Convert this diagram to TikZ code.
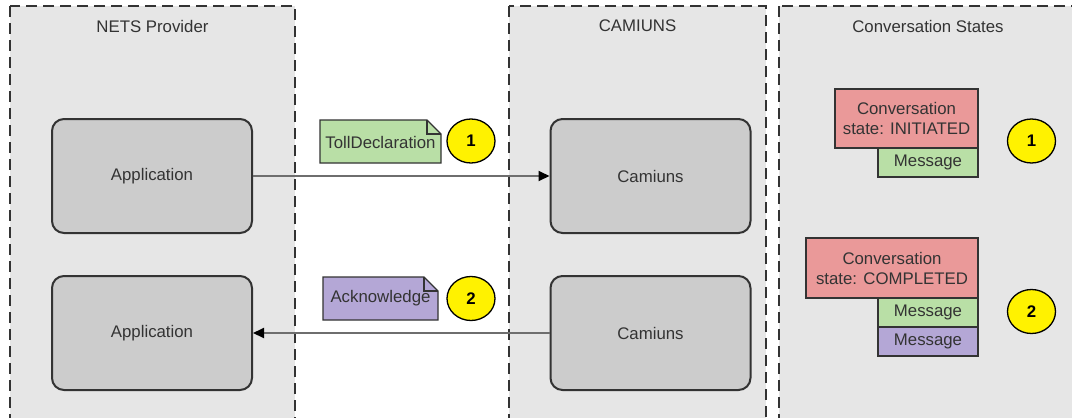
\documentclass[tikz,border=0pt]{standalone}
\usepackage{fontspec}
\setmainfont{Liberation Sans}
\usetikzlibrary{arrows.meta,shapes.geometric}
\definecolor{cont}{HTML}{E6E6E6}
\definecolor{boxfill}{HTML}{CCCCCC}
\definecolor{edge}{HTML}{333333}
\definecolor{txt}{HTML}{333333}
\definecolor{redf}{HTML}{EA9999}
\definecolor{greenf}{HTML}{B9DFA6}
\definecolor{purplef}{HTML}{B4A7D6}
\definecolor{linec}{HTML}{6E6E6E}
\tikzset{
  every node/.style={font=\fontsize{16.8}{20}\selectfont, text=txt},
  container/.style={fill=cont, draw=edge, line width=1.3pt, dash pattern=on 11pt off 6pt},
  appbox/.style={draw=edge, fill=boxfill, line width=2pt, rounded corners=12pt, minimum width=200pt, minimum height=114pt, inner sep=0pt},
  statebox/.style={draw=edge, fill=redf, line width=2pt, inner sep=0pt, align=center},
  msgbox/.style={draw=edge, line width=2pt, inner sep=0pt, minimum width=100pt, minimum height=29pt},
  numcirc/.style={ellipse, draw=black, fill=yellow, line width=1.3pt, minimum width=48pt, minimum height=44pt, inner sep=0pt, font=\fontsize{16.8}{20}\selectfont\bfseries, text=black},
  notebox/.style={draw=edge, line width=1.3pt, line join=miter},
  flow/.style={draw=linec, line width=2pt, -{Triangle[length=11pt,width=10pt,color=black]}},
  title/.style={inner sep=0pt}
}
\begin{document}
\begin{tikzpicture}[x=1pt,y=-1pt]
\useasboundingbox (0,0) rectangle (1072,418);
\clip (0,0) rectangle (1072,418);
\fill[white] (0,0) rectangle (1072,418);
% containers
\draw[container] (10,6) rectangle (295,440);
\draw[container] (509,6) rectangle (766,440);
\draw[container] (779,6) rectangle (1100,440);
\node[title] (t1) at (152.5,26) {NETS Provider};
\node[title] (t2) at (637.5,26) {CAMIUNS};
\node[title] (t3) at (928,26) {Conversation States};
% boxes
\node[appbox] (app1) at (152,176) {Application};
\node[appbox] (app2) at (152,333) {Application};
\node[appbox] (cam1) at (650.5,176) {Camiuns};
\node[appbox] (cam2) at (650.5,333) {Camiuns};
% arrows
\draw[flow] (app1.east) -- (cam1.west);
\draw[flow] (cam2.west) -- (app2.east);
% notes
\filldraw[notebox, fill=greenf] (320,163) -- (320,120) -- (427,120) -- (441,134) -- (441,163) -- cycle;
\draw[notebox] (427,120) -- (427,134) -- (441,134);
\node[inner sep=0pt] (toll) at (380.5,142) {TollDeclaration};
\filldraw[notebox, fill=purplef] (323,320) -- (323,277) -- (424,277) -- (438,291) -- (438,320) -- cycle;
\draw[notebox] (424,277) -- (424,291) -- (438,291);
\node[inner sep=0pt] (ack) at (380.5,298.5) {Acknowledge};
% numbers
\node[numcirc] (n1) at (471,141) {1};
\node[numcirc] (n2) at (471,298.5) {2};
\node[numcirc] (n3) at (1031.5,141) {1};
\node[numcirc] (n4) at (1031.5,311.5) {2};
% states
\node[statebox, minimum width=143pt, minimum height=59pt] (s1) at (906.5,118.5) {Conversation\\state: INITIATED};
\node[msgbox, fill=greenf] (m1) at (928,162.5) {Message};
\node[statebox, minimum width=172pt, minimum height=60pt] (s2) at (892,268) {Conversation\\state: COMPLETED};
\node[msgbox, fill=greenf] (m2) at (928,312.5) {Message};
\node[msgbox, fill=purplef] (m3) at (928,341.5) {Message};
\end{tikzpicture}
\end{document}
